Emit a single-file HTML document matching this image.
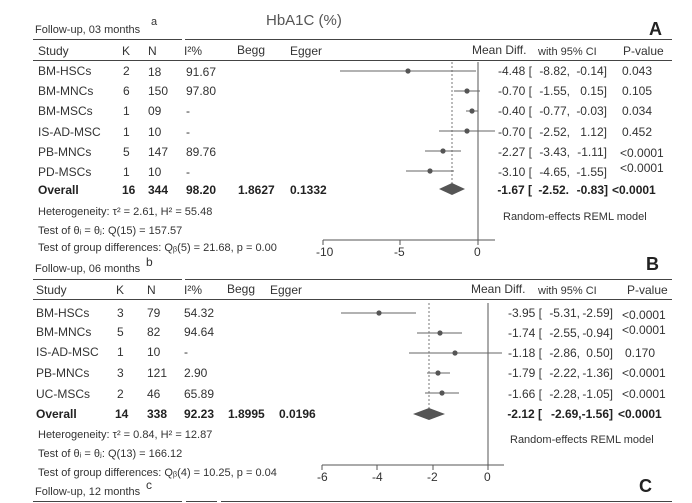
<!DOCTYPE html>
<html><head><style>
html,body{margin:0;padding:0;background:#fff;}
svg{display:block;font-family:"Liberation Sans",sans-serif;}
text{fill:#333;font-size:12px;}
.b{font-weight:bold;fill:#222;}
.s{font-size:11px;}
.r{text-anchor:end;}
</style></head><body>
<svg width="692" height="503" viewBox="0 0 692 503">
<!-- Panel A -->
<text x="35" y="33" class="s">Follow-up, 03 months</text><text x="151" y="25" style="font-size:11px">a</text>
<text x="266" y="25" style="font-size:15px;fill:#555">HbA1C (%)</text>
<text x="649" y="35" class="b" style="font-size:18px">A</text>
<line x1="33" y1="39.5" x2="182" y2="39.5" stroke="#444"/>
<line x1="185" y1="39.5" x2="672" y2="39.5" stroke="#444"/>
<line x1="33" y1="60.5" x2="672" y2="60.5" stroke="#444"/>
<text x="38" y="55">Study</text><text x="122" y="55">K</text><text x="148" y="55">N</text><text x="184" y="55">I²%</text><text x="237" y="54">Begg</text><text x="290" y="55">Egger</text>
<text x="472" y="54">Mean Diff.</text><text x="538" y="55" class="s">with 95% CI</text><text x="623" y="55">P-value</text>
<g>
<text x="38" y="75">BM-HSCs</text><text x="123" y="75">2</text><text x="148" y="76">18</text><text x="186" y="76">91.67</text>
<text x="38" y="95">BM-MNCs</text><text x="123" y="95">6</text><text x="148" y="95">150</text><text x="186" y="95">97.80</text>
<text x="38" y="115">BM-MSCs</text><text x="123" y="115">1</text><text x="148" y="115">09</text><text x="186" y="115">-</text>
<text x="38" y="136">IS-AD-MSC</text><text x="123" y="136">1</text><text x="148" y="136">10</text><text x="186" y="136">-</text>
<text x="38" y="156">PB-MNCs</text><text x="123" y="156">5</text><text x="148" y="156">147</text><text x="186" y="156">89.76</text>
<text x="38" y="176">PD-MSCs</text><text x="123" y="176">1</text><text x="148" y="176">10</text><text x="186" y="176">-</text>
<text x="38" y="194" class="b">Overall</text><text x="122" y="194" class="b">16</text><text x="148" y="194" class="b">344</text><text x="186" y="194" class="b">98.20</text><text x="238" y="194" class="b">1.8627</text><text x="290" y="194" class="b">0.1332</text>
<text x="38" y="215" class="s">Heterogeneity: τ² = 2.61,   H² = 55.48</text>
<text x="38" y="234" class="s">Test of θᵢ = θⱼ: Q(15) = 157.57</text>
<text x="38" y="251" class="s">Test of group differences: Qᵦ(5) = 21.68, p = 0.00</text>
</g>
<line x1="478" y1="62" x2="478" y2="240" stroke="#555"/>
<line x1="452" y1="62" x2="452" y2="185" stroke="#777" stroke-dasharray="2,2"/>
<line x1="323" y1="240" x2="495" y2="240" stroke="#555"/>
<line x1="323" y1="240" x2="323" y2="245" stroke="#555"/><line x1="400" y1="240" x2="400" y2="245" stroke="#555"/><line x1="478" y1="240" x2="478" y2="245" stroke="#555"/>
<text x="316" y="256">-10</text><text x="394" y="256">-5</text><text x="474" y="256">0</text>
<g stroke="#666" stroke-width="1">
<line x1="340" y1="71" x2="476" y2="71"/><line x1="454" y1="91" x2="480" y2="91"/><line x1="466" y1="111" x2="478" y2="111"/>
<line x1="439" y1="131" x2="495" y2="131"/><line x1="425" y1="151" x2="461" y2="151"/><line x1="406" y1="171" x2="454" y2="171"/>
</g>
<g fill="#555"><circle cx="408" cy="71" r="2.6"/><circle cx="467" cy="91" r="2.6"/><circle cx="472" cy="111" r="2.6"/><circle cx="467" cy="131" r="2.6"/><circle cx="443" cy="151" r="2.6"/><circle cx="430" cy="171" r="2.6"/></g>
<polygon points="439,189 452,183 465,189 452,195" fill="#555"/>
<g class="s">
<text x="532" y="75" class="r">-4.48 [</text><text x="570" y="75" class="r">-8.82,</text><text x="607" y="75" class="r">-0.14]</text><text x="622" y="75">0.043</text>
<text x="532" y="95" class="r">-0.70 [</text><text x="570" y="95" class="r">-1.55,</text><text x="607" y="95" class="r">0.15]</text><text x="622" y="95">0.105</text>
<text x="532" y="115" class="r">-0.40 [</text><text x="570" y="115" class="r">-0.77,</text><text x="607" y="115" class="r">-0.03]</text><text x="622" y="115">0.034</text>
<text x="532" y="136" class="r">-0.70 [</text><text x="570" y="136" class="r">-2.52,</text><text x="607" y="136" class="r">1.12]</text><text x="622" y="136">0.452</text>
<text x="532" y="156" class="r">-2.27 [</text><text x="570" y="156" class="r">-3.43,</text><text x="607" y="156" class="r">-1.11]</text><text x="620" y="157">&lt;0.0001</text>
<text x="532" y="176" class="r">-3.10 [</text><text x="570" y="176" class="r">-4.65,</text><text x="607" y="176" class="r">-1.55]</text><text x="620" y="172">&lt;0.0001</text>
</g>
<text x="532" y="194" class="b r">-1.67 [</text><text x="569" y="194" class="b r">-2.52.</text><text x="608" y="194" class="b r">-0.83]</text><text x="612" y="194" class="b">&lt;0.0001</text>
<text x="503" y="220" class="s">Random-effects REML model</text>
<!-- Panel B -->
<text x="35" y="272" class="s">Follow-up, 06 months</text><text x="146" y="266" style="font-size:12px">b</text>
<text x="646" y="270" class="b" style="font-size:18px">B</text>
<line x1="33" y1="279.5" x2="182" y2="279.5" stroke="#444"/>
<line x1="185" y1="279.5" x2="672" y2="279.5" stroke="#444"/>
<line x1="33" y1="299.5" x2="672" y2="299.5" stroke="#444"/>
<text x="36" y="294">Study</text><text x="116" y="294">K</text><text x="147" y="294">N</text><text x="184" y="294">I²%</text><text x="227" y="293">Begg</text><text x="270" y="294">Egger</text>
<text x="471" y="293">Mean Diff.</text><text x="538" y="294" class="s">with 95% CI</text><text x="627" y="294">P-value</text>
<text x="36" y="317">BM-HSCs</text><text x="117" y="317">3</text><text x="147" y="317">79</text><text x="184" y="317">54.32</text>
<text x="36" y="336">BM-MNCs</text><text x="117" y="336">5</text><text x="147" y="336">82</text><text x="184" y="336">94.64</text>
<text x="36" y="356">IS-AD-MSC</text><text x="117" y="356">1</text><text x="147" y="356">10</text><text x="184" y="356">-</text>
<text x="36" y="377">PB-MNCs</text><text x="117" y="377">3</text><text x="147" y="377">121</text><text x="184" y="377">2.90</text>
<text x="36" y="398">UC-MSCs</text><text x="117" y="398">2</text><text x="147" y="398">46</text><text x="184" y="398">65.89</text>
<text x="36" y="418" class="b">Overall</text><text x="115" y="418" class="b">14</text><text x="147" y="418" class="b">338</text><text x="184" y="418" class="b">92.23</text><text x="228" y="418" class="b">1.8995</text><text x="279" y="418" class="b">0.0196</text>
<text x="38" y="438" class="s">Heterogeneity: τ² = 0.84,   H² = 12.87</text>
<text x="38" y="457" class="s">Test of θᵢ = θⱼ: Q(13) = 166.12</text>
<text x="38" y="476" class="s">Test of group differences: Qᵦ(4) = 10.25, p = 0.04</text>
<line x1="488" y1="303" x2="488" y2="465" stroke="#555"/>
<line x1="429" y1="303" x2="429" y2="410" stroke="#777" stroke-dasharray="2,2"/>
<line x1="322" y1="465" x2="504" y2="465" stroke="#555"/>
<line x1="322" y1="465" x2="322" y2="470" stroke="#555"/><line x1="377" y1="465" x2="377" y2="470" stroke="#555"/><line x1="433" y1="465" x2="433" y2="470" stroke="#555"/><line x1="488" y1="465" x2="488" y2="470" stroke="#555"/>
<text x="317" y="481">-6</text><text x="372" y="481">-4</text><text x="427" y="481">-2</text><text x="484" y="481">0</text>
<g stroke="#666">
<line x1="341" y1="313" x2="416" y2="313"/><line x1="417" y1="333" x2="462" y2="333"/><line x1="409" y1="353" x2="502" y2="353"/>
<line x1="427" y1="373" x2="450" y2="373"/><line x1="425" y1="393" x2="459" y2="393"/>
</g>
<g fill="#555"><circle cx="379" cy="313" r="2.6"/><circle cx="440" cy="333" r="2.6"/><circle cx="455" cy="353" r="2.6"/><circle cx="438" cy="373" r="2.6"/><circle cx="442" cy="393" r="2.6"/></g>
<polygon points="413,414 429,408 445,414 429,420" fill="#555"/>
<g class="s">
<text x="542" y="317" class="r">-3.95 [</text><text x="580" y="317" class="r">-5.31,</text><text x="613" y="317" class="r">-2.59]</text><text x="622" y="319">&lt;0.0001</text>
<text x="542" y="337" class="r">-1.74 [</text><text x="580" y="337" class="r">-2.55,</text><text x="613" y="337" class="r">-0.94]</text><text x="622" y="334">&lt;0.0001</text>
<text x="542" y="357" class="r">-1.18 [</text><text x="580" y="357" class="r">-2.86,</text><text x="613" y="357" class="r">0.50]</text><text x="625" y="357">0.170</text>
<text x="542" y="377" class="r">-1.79 [</text><text x="580" y="377" class="r">-2.22,</text><text x="613" y="377" class="r">-1.36]</text><text x="622" y="377">&lt;0.0001</text>
<text x="542" y="398" class="r">-1.66 [</text><text x="580" y="398" class="r">-2.28,</text><text x="613" y="398" class="r">-1.05]</text><text x="622" y="398">&lt;0.0001</text>
</g>
<text x="542" y="418" class="b r">-2.12 [</text><text x="613" y="418" class="b r">-2.69,-1.56]</text><text x="618" y="418" class="b">&lt;0.0001</text>
<text x="510" y="443" class="s">Random-effects REML model</text>
<!-- Panel C header -->
<text x="35" y="495" class="s">Follow-up, 12 months</text><text x="146" y="489" style="font-size:12px">c</text>
<text x="639" y="492" class="b" style="font-size:18px">C</text>
<line x1="33" y1="501.5" x2="182" y2="501.5" stroke="#444"/>
<line x1="186" y1="501.5" x2="217" y2="501.5" stroke="#444"/>
<line x1="221" y1="501.5" x2="672" y2="501.5" stroke="#444"/>
</svg>
</body></html>
